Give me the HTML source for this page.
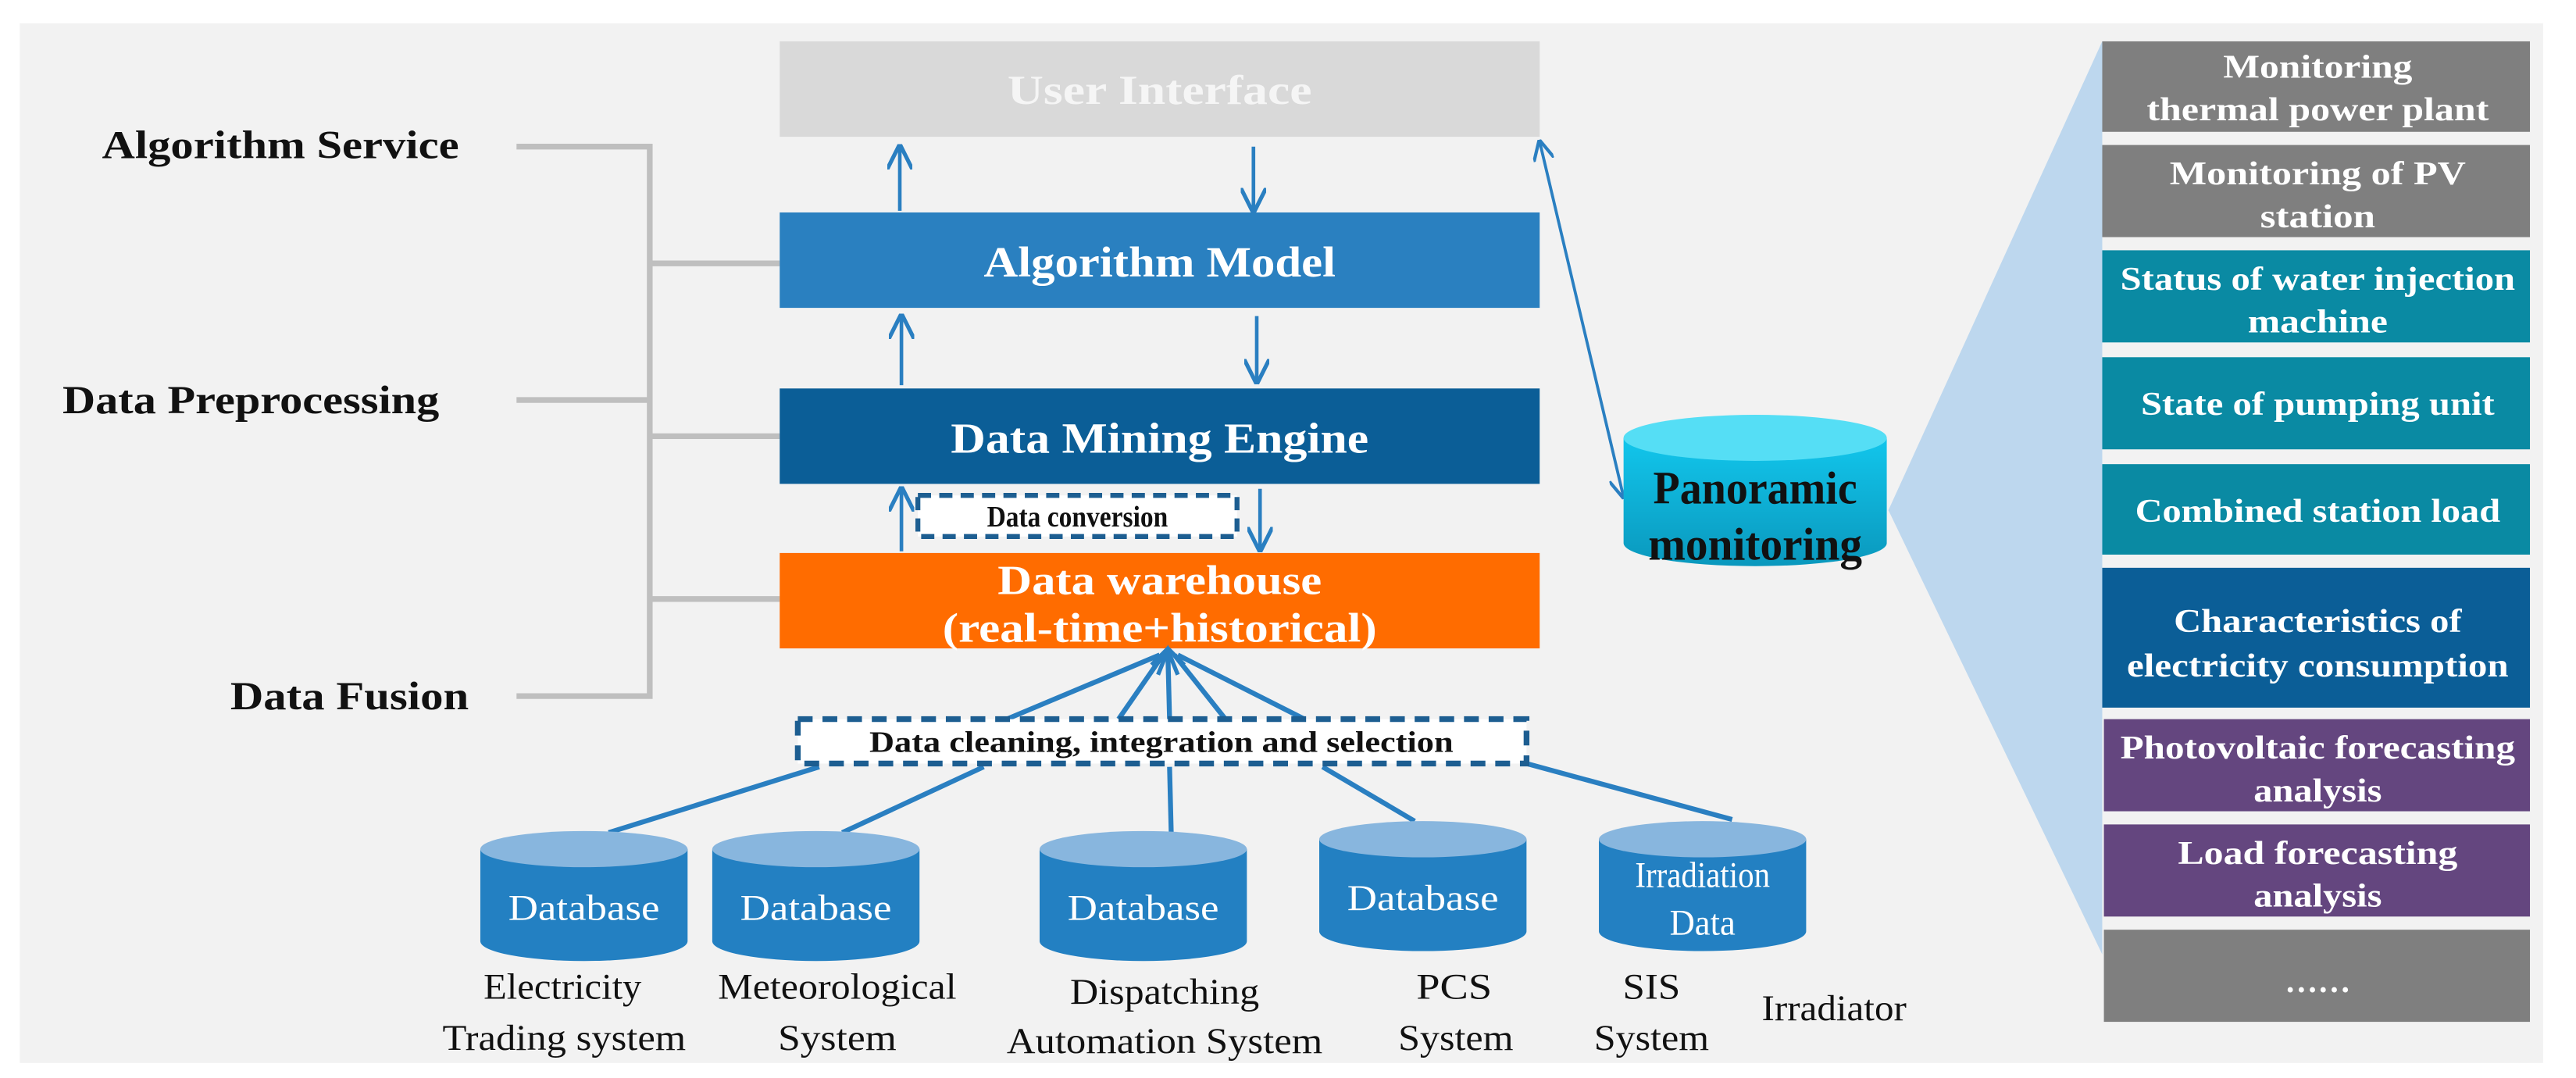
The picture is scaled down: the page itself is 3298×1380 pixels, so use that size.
<!DOCTYPE html>
<html><head><meta charset="utf-8"><style>html,body{margin:0;padding:0;background:#fff;overflow:hidden}svg{display:block}svg text{font-family:"Liberation Serif","Times New Roman",serif}</style></head><body>
<svg width="3298" height="1380" viewBox="0 0 1566 655" xmlns="http://www.w3.org/2000/svg">
<defs>
<marker id="ah" viewBox="0 0 10 10" refX="9" refY="5" markerWidth="7" markerHeight="7" orient="auto-start-reverse"><path d="M0,0 L10,5 L0,10" fill="none" stroke="#2a7fc1" stroke-width="1.6"/></marker>
<linearGradient id="cy" x1="0" y1="0" x2="0" y2="1"><stop offset="0" stop-color="#12c6ec"/><stop offset="1" stop-color="#0a98bd"/></linearGradient>
</defs>
<rect x="0" y="0" width="1566" height="655" fill="#fff"/>
<rect x="12" y="14" width="1534" height="632" fill="#f2f2f2"/>

<g font-weight="bold" font-size="24" fill="#111">
<text x="62" y="96" textLength="217" lengthAdjust="spacingAndGlyphs">Algorithm Service</text>
<text x="38" y="251" textLength="229" lengthAdjust="spacingAndGlyphs">Data Preprocessing</text>
<text x="140" y="431" textLength="145" lengthAdjust="spacingAndGlyphs">Data Fusion</text>
</g>
<g stroke="#bfbfbf" stroke-width="3.5" fill="none">
<path d="M314,89 H395 V423 H314"/><path d="M314,243 H395"/>
<path d="M395,160 H474 M395,265 H474 M395,364 H474"/>
</g>

<rect x="474" y="25" width="462" height="58" fill="#d9d9d9"/>
<text x="705" y="63" text-anchor="middle" font-size="25" font-weight="bold" fill="#f5f5f5" textLength="185" lengthAdjust="spacingAndGlyphs">User Interface</text>
<rect x="474" y="129" width="462" height="58" fill="#2a80c0"/>
<text x="705" y="168" text-anchor="middle" font-size="26" font-weight="bold" fill="#fff" textLength="214" lengthAdjust="spacingAndGlyphs">Algorithm Model</text>
<rect x="474" y="236" width="462" height="58" fill="#0b5e97"/>
<text x="705" y="275" text-anchor="middle" font-size="26" font-weight="bold" fill="#fff" textLength="254" lengthAdjust="spacingAndGlyphs">Data Mining Engine</text>
<rect x="474" y="336" width="462" height="58" fill="#ff6c00"/>
<text x="705" y="361" text-anchor="middle" font-size="25" font-weight="bold" fill="#fff" textLength="197" lengthAdjust="spacingAndGlyphs">Data warehouse</text>
<text x="705" y="390" text-anchor="middle" font-size="25" font-weight="bold" fill="#fff" textLength="264" lengthAdjust="spacingAndGlyphs">(real-time+historical)</text>

<g stroke="#2a7fc1" stroke-width="2.2" fill="none" marker-end="url(#ah)">
<line x1="547" y1="128" x2="547" y2="89"/>
<line x1="762" y1="89" x2="762" y2="128"/>
<line x1="548" y1="234" x2="548" y2="192"/>
<line x1="764" y1="192" x2="764" y2="232"/>
<line x1="548" y1="335" x2="548" y2="297"/>
<line x1="766" y1="297" x2="766" y2="334"/>
</g>
<line x1="936" y1="86" x2="987" y2="302" stroke="#2a7fc1" stroke-width="1.8" marker-end="url(#ah)" marker-start="url(#ah)"/>

<rect x="558" y="301" width="194" height="25" fill="#fff" stroke="#1d5e91" stroke-width="3" stroke-dasharray="8,5"/>
<text x="655" y="320" text-anchor="middle" font-size="18" font-weight="bold" fill="#111" textLength="110" lengthAdjust="spacingAndGlyphs">Data conversion</text>

<g stroke="#2a7fc1" stroke-width="3" fill="none">
<line x1="612" y1="437" x2="705" y2="398"/>
<line x1="680" y1="437" x2="707" y2="398"/>
<line x1="711" y1="437" x2="710" y2="398"/>
<line x1="745" y1="437" x2="714" y2="398"/>
<line x1="793" y1="437" x2="716" y2="398"/>
<line x1="498" y1="466" x2="370" y2="506"/>
<line x1="598" y1="466" x2="512" y2="506"/>
<line x1="711" y1="466" x2="712" y2="506"/>
<line x1="804" y1="466" x2="860" y2="499"/>
<line x1="928" y1="464" x2="1053" y2="498"/>
</g>
<path d="M700,404 L710,394 L720,404 M704,410 L710,395 L716,410" stroke="#2a7fc1" stroke-width="2.5" fill="none"/>

<rect x="485" y="437" width="443" height="27" fill="#fff" stroke="#1d5e91" stroke-width="3.5" stroke-dasharray="9,6"/>
<text x="706" y="457" text-anchor="middle" font-size="18" font-weight="bold" fill="#111" textLength="355" lengthAdjust="spacingAndGlyphs">Data cleaning, integration and selection</text>

<g>
<path d="M292,516 V572 A63,12 0 0 0 418,572 V516 Z" fill="#2380c2"/><ellipse cx="355" cy="516" rx="63" ry="11" fill="#88b6de"/>
<path d="M433,516 V572 A63,12 0 0 0 559,572 V516 Z" fill="#2380c2"/><ellipse cx="496" cy="516" rx="63" ry="11" fill="#88b6de"/>
<path d="M632,516 V572 A63,12 0 0 0 758,572 V516 Z" fill="#2380c2"/><ellipse cx="695" cy="516" rx="63" ry="11" fill="#88b6de"/>
<path d="M802,510 V566 A63,12 0 0 0 928,566 V510 Z" fill="#2380c2"/><ellipse cx="865" cy="510" rx="63" ry="11" fill="#88b6de"/>
<path d="M972,510 V566 A63,12 0 0 0 1098,566 V510 Z" fill="#2380c2"/><ellipse cx="1035" cy="510" rx="63" ry="11" fill="#88b6de"/>
</g>
<g font-size="22" fill="#fff" text-anchor="middle">
<text x="355" y="559" textLength="92" lengthAdjust="spacingAndGlyphs">Database</text>
<text x="496" y="559" textLength="92" lengthAdjust="spacingAndGlyphs">Database</text>
<text x="695" y="559" textLength="92" lengthAdjust="spacingAndGlyphs">Database</text>
<text x="865" y="553" textLength="92" lengthAdjust="spacingAndGlyphs">Database</text>
<text x="1035" y="539" textLength="82" lengthAdjust="spacingAndGlyphs">Irradiation</text>
<text x="1035" y="568" textLength="40" lengthAdjust="spacingAndGlyphs">Data</text>
</g>
<g font-size="22" fill="#111" text-anchor="middle">
<text x="342" y="607" textLength="96" lengthAdjust="spacingAndGlyphs">Electricity</text>
<text x="343" y="638" textLength="148" lengthAdjust="spacingAndGlyphs">Trading system</text>
<text x="509" y="607" textLength="145" lengthAdjust="spacingAndGlyphs">Meteorological</text>
<text x="509" y="638" textLength="72" lengthAdjust="spacingAndGlyphs">System</text>
<text x="708" y="610" textLength="115" lengthAdjust="spacingAndGlyphs">Dispatching</text>
<text x="708" y="640" textLength="192" lengthAdjust="spacingAndGlyphs">Automation System</text>
<text x="884" y="607" textLength="46" lengthAdjust="spacingAndGlyphs">PCS</text>
<text x="885" y="638" textLength="70" lengthAdjust="spacingAndGlyphs">System</text>
<text x="1004" y="607" textLength="35" lengthAdjust="spacingAndGlyphs">SIS</text>
<text x="1004" y="638" textLength="70" lengthAdjust="spacingAndGlyphs">System</text>
<text x="1115" y="620" textLength="88" lengthAdjust="spacingAndGlyphs">Irradiator</text>
</g>

<polygon points="1148,310 1278,25 1278,580" fill="#bdd7ee"/>

<path d="M987,266 V330 A80,14 0 0 0 1147,330 V266 Z" fill="url(#cy)"/>
<ellipse cx="1067" cy="266" rx="80" ry="14" fill="#55def5"/>
<text x="1067" y="306" text-anchor="middle" font-size="28" font-weight="bold" fill="#111" textLength="124" lengthAdjust="spacingAndGlyphs">Panoramic</text>
<text x="1067" y="340" text-anchor="middle" font-size="28" font-weight="bold" fill="#111" textLength="130" lengthAdjust="spacingAndGlyphs">monitoring</text>

<g>
<rect x="1278" y="25" width="260" height="55" fill="#7f7f7f"/>
<rect x="1278" y="88" width="260" height="56" fill="#7f7f7f"/>
<rect x="1278" y="152" width="260" height="56" fill="#0a8aa3"/>
<rect x="1278" y="217" width="260" height="56" fill="#0a8aa3"/>
<rect x="1278" y="282" width="260" height="55" fill="#0a8aa3"/>
<rect x="1278" y="345" width="260" height="85" fill="#0b5e97"/>
<rect x="1279" y="437" width="259" height="56" fill="#64467f"/>
<rect x="1279" y="501" width="259" height="56" fill="#64467f"/>
<rect x="1279" y="565" width="259" height="56" fill="#7f7f7f"/>
</g>
<g font-size="20" font-weight="bold" fill="#fff" text-anchor="middle">
<text x="1409" y="47" textLength="115" lengthAdjust="spacingAndGlyphs">Monitoring</text>
<text x="1409" y="73" textLength="208" lengthAdjust="spacingAndGlyphs">thermal power plant</text>
<text x="1409" y="112" textLength="180" lengthAdjust="spacingAndGlyphs">Monitoring of PV</text>
<text x="1409" y="138" textLength="70" lengthAdjust="spacingAndGlyphs">station</text>
<text x="1409" y="176" textLength="240" lengthAdjust="spacingAndGlyphs">Status of water injection</text>
<text x="1409" y="202" textLength="85" lengthAdjust="spacingAndGlyphs">machine</text>
<text x="1409" y="252" textLength="215" lengthAdjust="spacingAndGlyphs">State of pumping unit</text>
<text x="1409" y="317" textLength="222" lengthAdjust="spacingAndGlyphs">Combined station load</text>
<text x="1409" y="384" textLength="175" lengthAdjust="spacingAndGlyphs">Characteristics of</text>
<text x="1409" y="411" textLength="232" lengthAdjust="spacingAndGlyphs">electricity consumption</text>
<text x="1409" y="461" textLength="240" lengthAdjust="spacingAndGlyphs">Photovoltaic forecasting</text>
<text x="1409" y="487" textLength="78" lengthAdjust="spacingAndGlyphs">analysis</text>
<text x="1409" y="525" textLength="170" lengthAdjust="spacingAndGlyphs">Load forecasting</text>
<text x="1409" y="551" textLength="78" lengthAdjust="spacingAndGlyphs">analysis</text>
<text x="1409" y="603">……</text>
</g>
</svg>
</body></html>
